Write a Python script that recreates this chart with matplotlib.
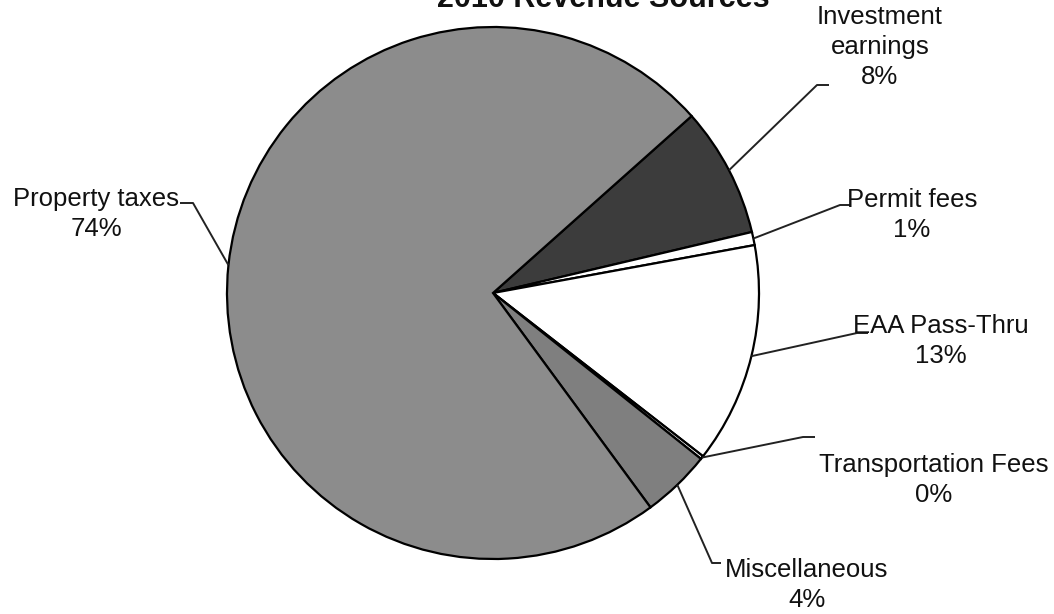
import numpy as np
import matplotlib.pyplot as plt

# Revenue shares (percent), in drawing order (clockwise from the top-right)
categories = ['Investment\nearnings', 'Permit fees', 'EAA Pass-Thru',
              'Transportation Fees', 'Miscellaneous', 'Property taxes']
shares = [7.9, 0.8, 13.4, 0.2, 4.2, 73.5]
pct_labels = ['8%', '1%', '13%', '0%', '4%', '74%']
colors = ['#3c3c3c', '#ffffff', '#ffffff', '#ffffff', '#7f7f7f', '#8c8c8c']

W, H = 1054, 614
fig = plt.figure(figsize=(W / 100, H / 100), dpi=100)
ax = fig.add_axes([0, 0, 1, 1])

plt.rcParams['font.family'] = ['Liberation Sans', 'DejaVu Sans']

cx, cy, R = 493, H - 293, 266
wedges, _ = ax.pie(shares, colors=colors, startangle=41.7, counterclock=False,
                   center=(cx, cy), radius=R, frame=True,
                   wedgeprops={'edgecolor': 'black', 'linewidth': 1.6})
ax.set_xlim(0, W)
ax.set_ylim(0, H)
ax.set_aspect('equal')
ax.axis('off')

# label layout: elbow point of leader, stub end, text centre (pixels from top-left)
layout = [
    ((817, 85), (829, 85), (880, 47)),
    ((840, 205), (850, 205), (912, 215)),
    ((857, 333), (868, 333), (941, 341)),
    ((803, 437), (815, 437), (934, 480)),
    ((712, 563), (721, 563), (807, 585)),
    ((193, 203), (180, 203), (96, 214)),
]

for w, name, pct, (elbow, stub, txt) in zip(wedges, categories, pct_labels, layout):
    mid = np.deg2rad((w.theta1 + w.theta2) / 2)
    x0 = cx + R * np.cos(mid)
    y0 = cy + R * np.sin(mid)
    ax.plot([x0, elbow[0], stub[0]], [y0, H - elbow[1], H - stub[1]],
            color='#222222', lw=1.4, solid_capstyle='butt')
    ax.text(txt[0], H - txt[1], name + '\n' + pct, ha='center', va='center',
            fontsize=18.5, linespacing=1.3, color='#111111')

# title sits mostly above the top edge, as in the scanned original
ax.text(603, H - 7, '2010 Revenue Sources', ha='center', va='baseline',
        fontsize=22, fontweight='bold', color='#111111')

fig.savefig('out.png', dpi=100)
